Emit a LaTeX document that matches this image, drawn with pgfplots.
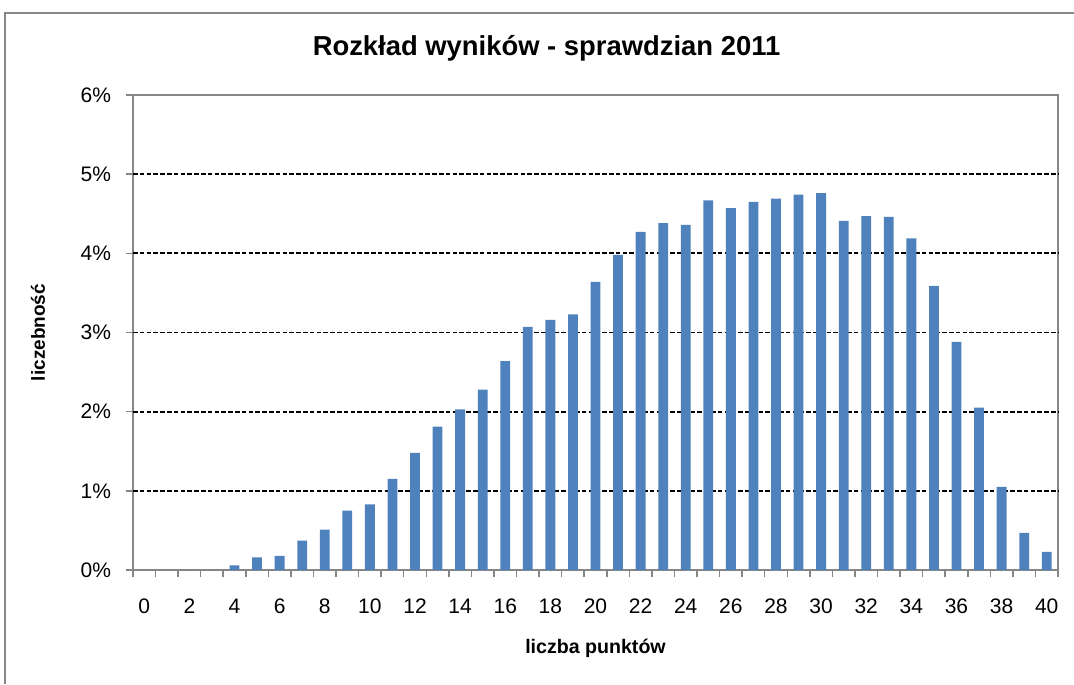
\documentclass[border=0pt]{standalone}
\usepackage{pgfplots}
\pgfplotsset{compat=1.18}
\usepackage{fontspec}
\setmainfont{Liberation Sans}
\definecolor{barblue}{HTML}{4F81BD}
\definecolor{axgrey}{HTML}{868686}
\begin{document}
\begin{tikzpicture}
\begin{axis}[
  scale only axis,
  width=462.5pt, height=237.5pt,
  xmin=-0.5, xmax=40.5,
  ymin=0, ymax=6,
  ybar, bar width=4.9pt,
  axis line style={axgrey, line width=0.75pt},
  tick align=outside,
  major tick length=3.5pt,
  tick style={axgrey, line width=0.75pt},
  xtick={-0.5,0.5,...,40.5},
  xticklabels={},
  extra x ticks={0,2,...,40},
  extra x tick labels={0,2,4,6,8,10,12,14,16,18,20,22,24,26,28,30,32,34,36,38,40},
  extra x tick style={major tick length=0pt, xticklabel style={yshift=-11pt}},
  xtick pos=bottom,
  ytick pos=left,
  ytick={0,1,...,6},
  yticklabels={0\%,1\%,2\%,3\%,4\%,5\%,6\%},
  yticklabel style={xshift=-4pt},
  extra y ticks={1,2,3,4,5},
  extra y tick labels={},
  extra y tick style={grid=major, major tick length=0pt},
  major grid style={black, line width=0.85pt, dash pattern=on 2.3pt off 1.1pt},
  tick label style={font=\fontsize{10.5pt}{12pt}\selectfont},
  title={Rozkład wyników  - sprawdzian 2011},
  title style={font=\fontsize{13.7pt}{15pt}\selectfont\bfseries, at={(axis description cs:0.5,1)}, anchor=center, xshift=-24.5pt, yshift=17.5pt},
  xlabel={liczba punktów},
  xlabel style={font=\fontsize{9.8pt}{12pt}\selectfont\bfseries, at={(axis description cs:0.5,0)}, anchor=center, yshift=-39pt},
  ylabel={liczebność},
  ylabel style={font=\fontsize{9.5pt}{12pt}\selectfont\bfseries, at={(axis description cs:0,0.5)}, anchor=center, yshift=47.5pt},
  clip=false,
]
\addplot[fill=barblue, draw=none] coordinates {
(0,0) (1,0) (2,0) (3,0) (4,0.06) (5,0.16) (6,0.18) (7,0.37) (8,0.51) (9,0.75)
(10,0.83) (11,1.15) (12,1.48) (13,1.81) (14,2.03) (15,2.28) (16,2.64) (17,3.07) (18,3.16) (19,3.23)
(20,3.64) (21,3.98) (22,4.27) (23,4.38) (24,4.36) (25,4.67) (26,4.57) (27,4.65) (28,4.69) (29,4.74)
(30,4.76) (31,4.41) (32,4.47) (33,4.46) (34,4.19) (35,3.59) (36,2.88) (37,2.05) (38,1.05) (39,0.47)
(40,0.23)
};
\end{axis}
\path[use as bounding box] ([xshift=-66.5pt, yshift=-57pt]current axis.south west) rectangle ([xshift=470.5pt, yshift=285pt]current axis.south west);
\draw[axgrey, line width=0.9pt] ([xshift=-64pt, yshift=-57pt]current axis.south west) -- ([xshift=-64pt, yshift=278.5pt]current axis.south west) -- ([xshift=470.5pt, yshift=278.5pt]current axis.south west);
\end{tikzpicture}
\end{document}
